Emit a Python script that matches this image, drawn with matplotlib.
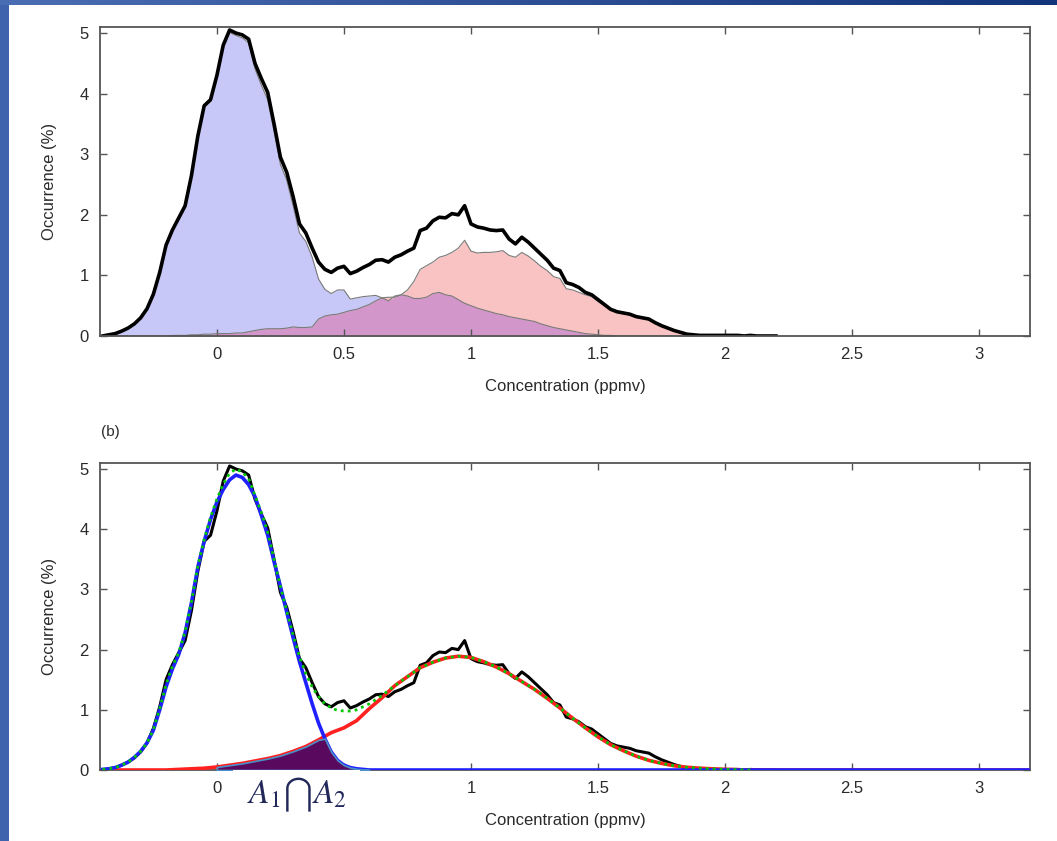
import numpy as np
import matplotlib
matplotlib.use("Agg")
import matplotlib.pyplot as plt
from matplotlib.patches import Rectangle
from matplotlib.colors import LinearSegmentedColormap

plt.rcParams['font.family'] = ['Liberation Sans', 'DejaVu Sans']
plt.rcParams['mathtext.fontset'] = 'stix'

# ---- measured histogram (same in both panels), step 0.025 ppmv
x_obs = np.round(np.arange(-0.45, 2.2001, 0.025), 3)
occ_total = [
    0.00, 0.02, 0.04, 0.08, 0.13, 0.20, 0.30, 0.45, 0.69, 1.05,
    1.50, 1.75, 1.95, 2.15, 2.65, 3.30, 3.80, 3.90, 4.30, 4.80,
    5.05, 5.00, 4.97, 4.90, 4.50, 4.25, 4.02, 3.50, 2.95, 2.70,
    2.30, 1.85, 1.70, 1.45, 1.22, 1.10, 1.05, 1.12, 1.15, 1.03,
    1.07, 1.13, 1.18, 1.25, 1.26, 1.22, 1.30, 1.34, 1.40, 1.45,
    1.74, 1.78, 1.90, 1.96, 1.95, 2.02, 2.00, 2.15, 1.85, 1.80,
    1.78, 1.75, 1.74, 1.75, 1.60, 1.52, 1.63, 1.55, 1.45, 1.35,
    1.25, 1.12, 1.08, 0.88, 0.85, 0.80, 0.72, 0.68, 0.60, 0.52,
    0.44, 0.40, 0.38, 0.36, 0.32, 0.30, 0.28, 0.22, 0.17, 0.13,
    0.09, 0.06, 0.03, 0.02, 0.01, 0.01, 0.01, 0.01, 0.01, 0.01,
    0.01, 0.00, 0.01, 0.00, 0.00, 0.00, 0.00,
]
# class 1 (background) and class 2 (plume) histograms
occ_class1 = [
    0.00, 0.02, 0.04, 0.08, 0.13, 0.20, 0.30, 0.45, 0.69, 1.05,
    1.50, 1.75, 1.94, 2.14, 2.63, 3.28, 3.77, 3.87, 4.26, 4.76,
    5.01, 4.96, 4.92, 4.84, 4.41, 4.14, 3.90, 3.38, 2.83, 2.57,
    2.15, 1.70, 1.56, 1.30, 0.94, 0.77, 0.70, 0.76, 0.76, 0.61,
    0.63, 0.65, 0.66, 0.67, 0.63, 0.58, 0.66, 0.68, 0.66, 0.62,
    0.62, 0.64, 0.70, 0.72, 0.68, 0.66, 0.60, 0.54, 0.50, 0.46,
    0.43, 0.40, 0.37, 0.35, 0.32, 0.30, 0.28, 0.26, 0.24, 0.20,
    0.17, 0.14, 0.12, 0.10, 0.08, 0.06, 0.04, 0.03, 0.02, 0.01,
    0.01, 0.00, 0.00, 0.00, 0.00, 0.00, 0.00, 0.00, 0.00, 0.00,
    0.00, 0.00, 0.00, 0.00, 0.00, 0.00, 0.00, 0.00, 0.00, 0.00,
    0.00, 0.00, 0.00, 0.00, 0.00, 0.00, 0.00,
]
occ_class2 = [
    0.00, 0.00, 0.00, 0.00, 0.00, 0.00, 0.00, 0.00, 0.00, 0.00,
    0.00, 0.01, 0.01, 0.01, 0.02, 0.02, 0.03, 0.03, 0.04, 0.04,
    0.04, 0.05, 0.05, 0.07, 0.09, 0.11, 0.12, 0.12, 0.12, 0.13,
    0.15, 0.14, 0.14, 0.15, 0.28, 0.33, 0.35, 0.36, 0.39, 0.42,
    0.44, 0.48, 0.52, 0.58, 0.63, 0.64, 0.64, 0.68, 0.76, 0.90,
    1.10, 1.16, 1.22, 1.30, 1.33, 1.38, 1.45, 1.58, 1.40, 1.37,
    1.38, 1.38, 1.39, 1.41, 1.33, 1.30, 1.38, 1.32, 1.24, 1.15,
    1.08, 0.98, 0.95, 0.78, 0.76, 0.72, 0.68, 0.65, 0.57, 0.50,
    0.43, 0.39, 0.37, 0.35, 0.31, 0.29, 0.27, 0.21, 0.16, 0.12,
    0.08, 0.05, 0.03, 0.02, 0.01, 0.00, 0.00, 0.00, 0.00, 0.00,
    0.00, 0.00, 0.00, 0.00, 0.00, 0.00, 0.00,
]

# ---- fitted components for panel (b)
x_fit1 = np.round(np.arange(-0.45, 0.6001, 0.025), 3)
fit_comp1 = [
    0.01, 0.02, 0.04, 0.08, 0.13, 0.21, 0.31, 0.45, 0.66, 1.00,
    1.38, 1.68, 1.92, 2.28, 2.78, 3.37, 3.80, 4.16, 4.45, 4.66,
    4.82, 4.90, 4.86, 4.74, 4.54, 4.23, 3.90, 3.46, 3.05, 2.62,
    2.20, 1.80, 1.45, 1.10, 0.78, 0.52, 0.30, 0.16, 0.08, 0.04,
    0.02, 0.01, 0.00,
]
x_fit2 = np.round(np.arange(-0.45, 2.3001, 0.05), 3)
fit_comp2 = [
    0.00, 0.00, 0.00, 0.00, 0.00, 0.00, 0.01, 0.02, 0.03, 0.05,
    0.08, 0.11, 0.15, 0.19, 0.24, 0.31, 0.39, 0.50, 0.62, 0.70,
    0.82, 1.02, 1.20, 1.40, 1.55, 1.70, 1.79, 1.86, 1.89, 1.87,
    1.80, 1.71, 1.60, 1.47, 1.34, 1.19, 1.03, 0.86, 0.70, 0.55,
    0.42, 0.32, 0.23, 0.16, 0.11, 0.07, 0.045, 0.03, 0.02, 0.01,
    0.005, 0.00, 0.00, 0.00, 0.00, 0.00,
]
x_mix = [-0.45, -0.425, -0.4, -0.375, -0.35, -0.325, -0.3, -0.275, -0.25, -0.225,
         -0.2, -0.175, -0.15, -0.125, -0.1, -0.075, -0.05, -0.025, 0.0, 0.025,
         0.05, 0.075, 0.1, 0.125, 0.15, 0.175, 0.2, 0.225, 0.25, 0.275,
         0.3, 0.325, 0.35, 0.375, 0.4, 0.425, 0.45, 0.475, 0.5, 0.525,
         0.55, 0.575, 0.6, 0.65, 0.7, 0.75, 0.8, 0.85, 0.9, 0.95,
         1.0, 1.05, 1.1, 1.15, 1.2, 1.25, 1.3, 1.35, 1.4, 1.45,
         1.5, 1.55, 1.6, 1.65, 1.7, 1.75, 1.8, 1.85, 1.9, 1.95,
         2.0, 2.05, 2.1]
fit_mixture = [
    0.01, 0.02, 0.04, 0.08, 0.13, 0.21, 0.31, 0.45, 0.67, 1.02,
    1.42, 1.72, 1.95, 2.30, 2.80, 3.39, 3.83, 4.20, 4.50, 4.75,
    4.93, 5.00, 4.95, 4.84, 4.56, 4.28, 3.95, 3.50, 3.05, 2.64,
    2.24, 1.88, 1.60, 1.38, 1.22, 1.10, 1.03, 0.99, 0.98, 0.98,
    1.00, 1.05, 1.10, 1.24, 1.40, 1.55, 1.70, 1.79, 1.86, 1.89,
    1.87, 1.80, 1.71, 1.60, 1.47, 1.34, 1.19, 1.03, 0.86, 0.70,
    0.55, 0.42, 0.32, 0.23, 0.16, 0.11, 0.07, 0.045, 0.03, 0.02,
    0.01, 0.005, 0.00,
]

xticks = [0, 0.5, 1, 1.5, 2, 2.5, 3]
xtick_labels = ['0', '0.5', '1', '1.5', '2', '2.5', '3']
yticks = [0, 1, 2, 3, 4, 5]

W, H = 1057, 841
fig = plt.figure(figsize=(W / 100, H / 100), dpi=100)
fig.patch.set_facecolor('white')

# slide border: blue strip on the left and gradient bar on top
left_strip = fig.add_axes([0, 0, 9 / W, 1])
left_strip.set_facecolor('#3f63ad')
left_strip.set_xticks([]); left_strip.set_yticks([])
for s in left_strip.spines.values():
    s.set_visible(False)
top_bar = fig.add_axes([0, 1 - 5 / H, 1, 5 / H])
grad = np.linspace(0, 1, 256)[None, :]
bar_cmap = LinearSegmentedColormap.from_list('bar', ['#4a6db3', '#2f4f95', '#12357a'])
top_bar.imshow(grad, aspect='auto', cmap=bar_cmap)
top_bar.axis('off')

axis_col = '#555555'
text_col = '#2a2a2a'


def style_axes(ax, labels):
    ax.set_xlim(-0.46, 3.2)
    ax.set_ylim(0, 5.1)
    ax.set_xticks(xticks)
    ax.set_xticklabels(labels)
    ax.set_yticks(yticks)
    ax.tick_params(direction='in', top=True, right=True, length=5, width=1,
                   color=axis_col, labelsize=12, labelcolor=text_col, pad=8)
    for s in ax.spines.values():
        s.set_color(axis_col)
        s.set_linewidth(1.3)
    ax.set_xlabel('Concentration (ppmv)', fontsize=12, color=text_col, labelpad=12)
    ax.set_ylabel('Occurrence (%)', fontsize=12, color=text_col, labelpad=16)


# ---- panel (a): class histograms
ax1 = fig.add_axes([100 / W, 1 - 336 / H, 930 / W, 309 / H])
c1 = np.array(occ_class1)
c2 = np.array(occ_class2)
ax1.fill_between(x_obs, 0, c1, color='#c8c8f8', lw=0)
ax1.fill_between(x_obs, 0, c2, color='#f9c3c3', lw=0)
ax1.fill_between(x_obs, 0, np.minimum(c1, c2), color='#d396ca', lw=0)
ax1.plot(x_obs, c1, color='#7a7a7a', lw=0.8)
ax1.plot(x_obs, c2, color='#7a7a7a', lw=0.8)
ax1.plot(x_obs, occ_total, color='black', lw=2.6, solid_joinstyle='round')
style_axes(ax1, xtick_labels)

fig.text(110 / W, 1 - 432 / H, '(b)', fontsize=11, color=text_col, ha='center', va='center')

# ---- panel (b): fitted components
ax2 = fig.add_axes([100 / W, 1 - 770 / H, 930 / W, 307 / H])
# the 0.5 label sits under the overlap label box
style_axes(ax2, [t if t != '0.5' else '' for t in xtick_labels])
ax2.plot(x_obs, occ_total, color='black', lw=2.2, zorder=2)
ax2.plot(np.append(x_fit2, 3.2), np.append(fit_comp2, 0), color='#ff2020', lw=2.6, zorder=3)
ax2.plot(np.append(x_fit1, 3.2), np.append(fit_comp1, 0), color='#2020ff', lw=2.6, zorder=4)
ax2.plot(x_mix, fit_mixture, color='#00c800', lw=2.0, ls=(0, (1, 1.5)), zorder=5)

# overlap of the two fitted components
f1 = np.array(fit_comp1)
f2 = np.interp(x_fit1, x_fit2, fit_comp2)
keep = x_fit1 >= 0.0
ax2.fill_between(x_fit1[keep], 0, np.minimum(f1, f2)[keep], facecolor='#5a0a5e',
                 edgecolor='#4a90c8', lw=1.2, zorder=6)

# label box for the overlap area
fig.patches.append(Rectangle((233 / W, 1 - 816 / H), 127 / W, 46 / H,
                             transform=fig.transFigure, facecolor='white',
                             edgecolor='none', zorder=10))
fig.text(297 / W, 1 - 795 / H, r'$A_1\bigcap A_2$', fontsize=24, color='#22285a',
         ha='center', va='center', zorder=11)

fig.savefig('out.png', dpi=100)
